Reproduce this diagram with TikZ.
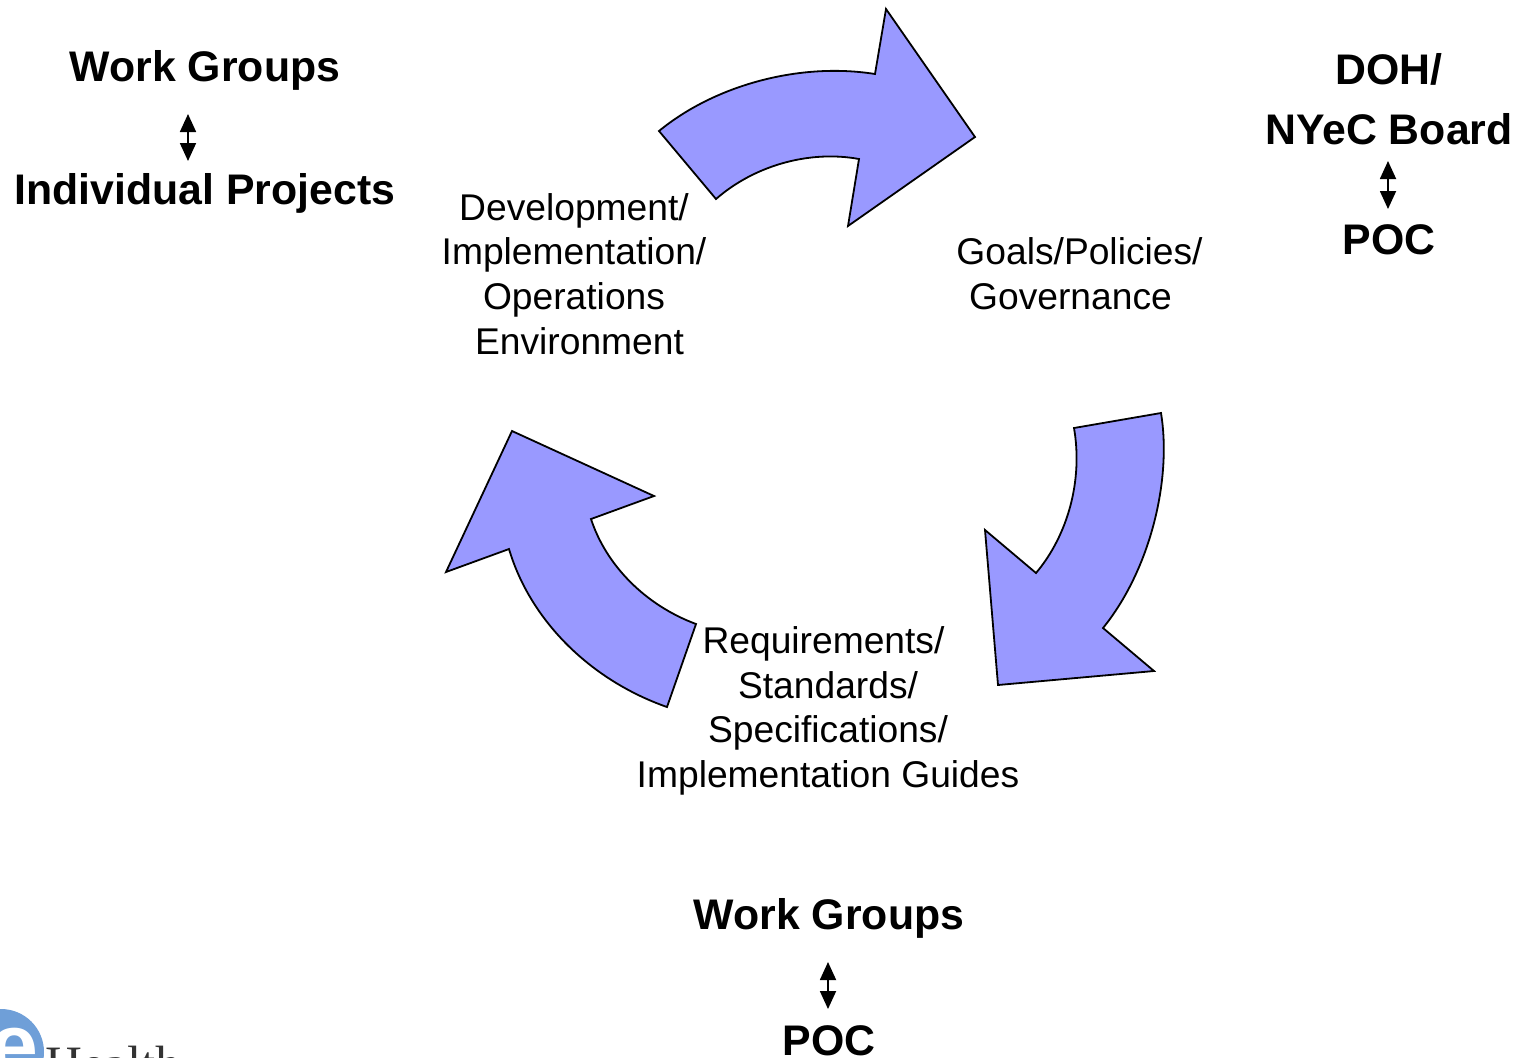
\documentclass[tikz,border=0pt]{standalone}
\usepackage{fontspec}
\setmainfont{Liberation Sans}
\newfontfamily\logofont{Liberation Serif}
\usetikzlibrary{arrows.meta}
\definecolor{cycleblue}{HTML}{9999FF}
\definecolor{logoblue}{HTML}{6F9FD8}
\tikzset{
  phase/.style={align=center, inner sep=0pt, font=\fontsize{18.6}{22.35}\selectfont},
  head/.style={align=center, inner sep=0pt, font=\fontsize{21.4}{30}\selectfont\bfseries},
  cyclearrow/.style={draw=black, fill=cycleblue, line width=0.9pt, line join=miter},
  updown/.style={{Triangle[width=8pt,length=9pt]}-{Triangle[width=8pt,length=9pt]}, line width=0.9pt}
}
\begin{document}
\begin{tikzpicture}[x=0.5pt, y=-0.5pt]
    \useasboundingbox (0,0) rectangle (1520,1057);
    \clip (0,0) rectangle (1520,1057);

    % Cycle
    \path[cyclearrow] (659,131) .. controls (715,85) and (800,62) .. (875,74)
        -- (886,9) -- (975,137) -- (848,226) -- (859,159)
        .. controls (810,150) and (755,165) .. (716,199) -- cycle;
    \path[cyclearrow] (1161,413) .. controls (1172,480) and (1150,570) .. (1103,628)
        -- (1154,671) -- (998,685) -- (985,530) -- (1036,573)
        .. controls (1068,535) and (1083,480) .. (1074,428) -- cycle;
    \path[cyclearrow] (667,707) .. controls (590,680) and (530,620) .. (509,549)
        -- (446,572) -- (512,431) -- (654,496) -- (591,519)
        .. controls (606,565) and (645,605) .. (696,624) -- cycle;

    % Phases
    \node[phase] (develop) at (574,274) {Development/\\Implementation/\\Operations\\\hspace*{5.5pt}Environment};
    \node[phase] (goals) at (1075,274) {\hspace*{4.5pt}Goals/Policies/\\Governance\hspace*{4.5pt}};
    \node[phase] (reqs) at (828,711) {Requirements/\hspace*{4.5pt}\\Standards/\\Specifications/\\Implementation Guides};

    % Left group
    \node[head] (wg1) at (205,70) {Work Groups};
    \node[head] (proj) at (205,193) {Individual Projects};
    \coordinate (wg1a) at (188,114);
    \coordinate (wg1b) at (188,161);
    \draw[updown] (wg1a) -- (wg1b);

    % Right group
    \node[head] (doh) at (1389,99) {DOH/\\NYeC Board};
    \node[head] (poc1) at (1389,240) {POC};
    \coordinate (doha) at (1388,161);
    \coordinate (dohb) at (1388,209);
    \draw[updown] (doha) -- (dohb);

    % Bottom group
    \node[head] (wg2) at (829,918) {Work Groups};
    \node[head] (poc2) at (829,1041) {POC};
    \coordinate (wg2a) at (828,962);
    \coordinate (wg2b) at (828,1009);
    \draw[updown] (wg2a) -- (wg2b);

    % Logo
    \fill[logoblue] (1,1052) circle (43);
    \node[text=white, inner sep=0pt, font=\fontsize{44}{44}\selectfont\bfseries] (loge) at (14,1052) {e};
    \node[anchor=base west, inner sep=0pt, text=black!80, font=\fontsize{25.5}{25.5}\selectfont\logofont] (logo) at (45,1081) {Health};
\end{tikzpicture}
\end{document}
